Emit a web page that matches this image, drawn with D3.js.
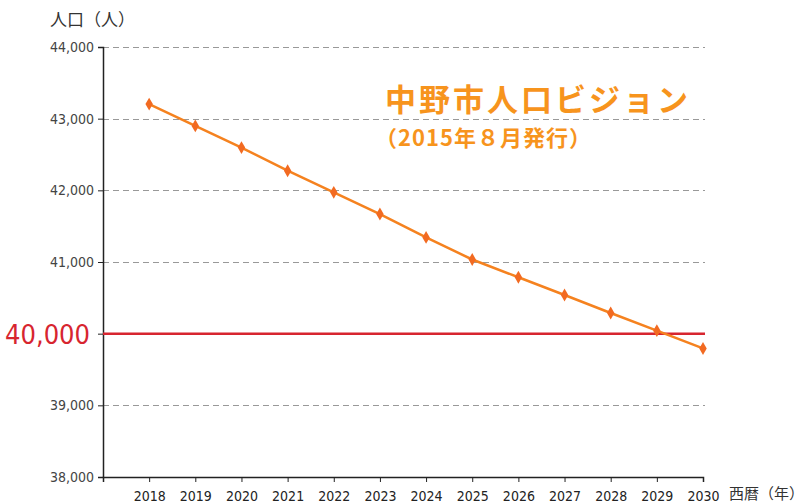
<!DOCTYPE html>
<html>
<head>
<meta charset="utf-8">
<title>中野市人口ビジョン</title>
<style>
    body { margin: 0; padding: 0; background: #fff; }
    svg { display: block; }
    .num { font-family: "DejaVu Sans", sans-serif; font-stretch: condensed; }
    .jp { font-family: "Noto Sans CJK JP", sans-serif; }
</style>
</head>
<body>
<div id="chart"></div>
<script src="https://d3js.org/d3.v7.min.js"></script>
<script>
// data
const years = [2018, 2019, 2020, 2021, 2022, 2023, 2024, 2025, 2026, 2027, 2028, 2029, 2030];
const population = [43203, 42899, 42596, 42274, 41972, 41669, 41343, 41035, 40787, 40540, 40288, 40042, 39794];
const yTicks = [38000, 39000, 40000, 41000, 42000, 43000, 44000];
const gridValues = [39000, 41000, 42000, 43000, 44000];
const targetValue = 40000;

const width = 809, height = 504;
const margin = { top: 47, right: 106, bottom: 27, left: 103 };

const svg = d3.select('#chart').append('svg')
    .attr('width', width)
    .attr('height', height);

const x = d3.scaleLinear()
    .domain([2017, 2030])
    .range([margin.left, width - margin.right]);

const y = d3.scaleLinear()
    .domain([38000, 44000])
    .range([height - margin.bottom, margin.top]);

const fmt = d3.format(',');

// dashed grid
svg.append('g')
    .selectAll('line')
    .data(gridValues)
    .enter().append('line')
    .attr('x1', margin.left)
    .attr('x2', width - margin.right + 2)
    .attr('y1', d => Math.round(y(d)) + 0.5)
    .attr('y2', d => Math.round(y(d)) + 0.5)
    .attr('stroke', '#999')
    .attr('stroke-width', 1)
    .attr('stroke-dasharray', '6,4');

// y axis
const yAxis = svg.append('g')
    .attr('transform', `translate(${margin.left},0)`)
    .call(d3.axisLeft(y).tickValues(yTicks).tickSize(5).tickPadding(4)
        .tickFormat(d => d === targetValue ? '' : fmt(d)));
yAxis.select('.domain').attr('stroke', '#222').attr('stroke-width', 1.5);
yAxis.selectAll('.tick line').attr('stroke', '#222');
yAxis.selectAll('.tick text')
    .attr('class', 'num')
    .attr('fill', '#444')
    .style('font-size', '14px');

// x axis
const xAxis = svg.append('g')
    .attr('transform', `translate(0,${height - margin.bottom})`)
    .call(d3.axisBottom(x).tickValues([2017].concat(years)).tickSize(5).tickPadding(9)
        .tickFormat(d => d === 2017 ? '' : d));
xAxis.select('.domain').attr('stroke', '#222').attr('stroke-width', 1.5);
xAxis.selectAll('.tick line').attr('stroke', '#222');
xAxis.selectAll('.tick text')
    .attr('class', 'num')
    .attr('fill', '#222')
    .style('font-size', '14px');

// 40,000 reference line
svg.append('line')
    .attr('x1', margin.left)
    .attr('x2', width - margin.right + 2)
    .attr('y1', y(targetValue))
    .attr('y2', y(targetValue))
    .attr('stroke', '#d7252f')
    .attr('stroke-width', 2.5);

svg.append('text')
    .attr('class', 'num')
    .attr('x', 90)
    .attr('y', y(targetValue) + 10)
    .attr('text-anchor', 'end')
    .attr('fill', '#d7252f')
    .style('font-size', '27px')
    .text(fmt(targetValue));

// population line
const line = d3.line()
    .x((d, i) => x(years[i]))
    .y(d => y(d));

svg.append('path')
    .datum(population)
    .attr('d', line)
    .attr('fill', 'none')
    .attr('stroke', '#f5821f')
    .attr('stroke-width', 2.5);

svg.append('g')
    .selectAll('path')
    .data(population)
    .enter().append('path')
    .attr('d', d3.symbol().type(d3.symbolDiamond).size(48)())
    .attr('transform', (d, i) => `translate(${x(years[i])},${y(d)})`)
    .attr('fill', '#f26a21');

// axis titles
svg.append('text')
    .attr('class', 'jp')
    .attr('x', 50)
    .attr('y', 26)
    .attr('fill', '#333')
    .style('font-size', '17px')
    .text('人口（人）');

svg.append('text')
    .attr('class', 'jp')
    .attr('x', 729)
    .attr('y', 499)
    .attr('fill', '#333')
    .style('font-size', '15px')
    .text('西暦（年）');

// title
svg.append('text')
    .attr('class', 'jp')
    .attr('x', 385)
    .attr('y', 111)
    .attr('fill', '#f7941d')
    .style('font-size', '31px')
    .style('font-weight', 'bold')
    .style('letter-spacing', '3px')
    .text('中野市人口ビジョン');

svg.append('text')
    .attr('class', 'jp')
    .attr('x', 375)
    .attr('y', 146)
    .attr('fill', '#f7941d')
    .style('font-size', '22px')
    .style('font-weight', 'bold')
    .style('letter-spacing', '1px')
    .text('（2015年８月発行）');
</script>
</body>
</html>
